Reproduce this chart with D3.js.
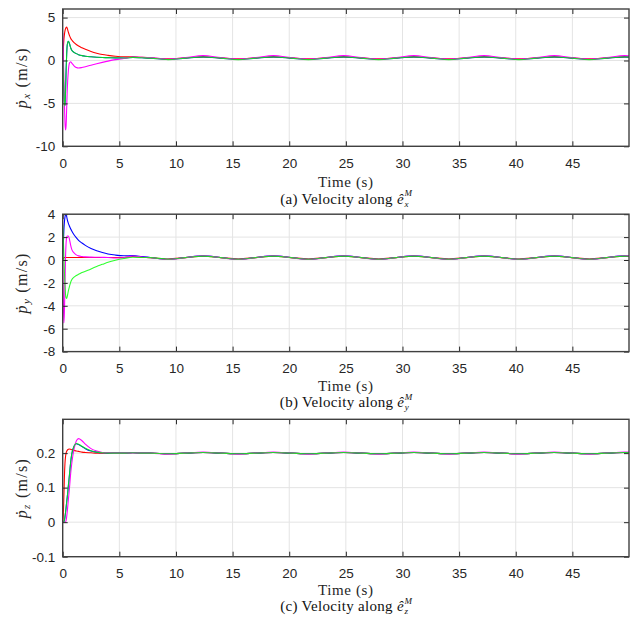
<!DOCTYPE html>
<html><head><meta charset="utf-8">
<script src="https://cdn.jsdelivr.net/npm/d3@7/dist/d3.min.js"></script>
<style>body{margin:0;background:#fff}svg{display:block}</style>
</head><body><svg id="c" width="637" height="617"></svg>
<script>
// ---------- data ----------
const T = [0,0.05,0.1,0.15,0.2,0.25,0.3,0.35,0.4,0.5,0.6,0.7,0.8,1.0,1.2,1.4,1.7,2.0,2.5,3.0,3.5,4.0,4.65,5.4,6.2,7.0,
  7.75,9.3,10.85,12.4,13.95,15.5,17.05,18.6,20.15,21.7,23.25,24.8,26.35,27.9,29.45,31.0,32.55,34.1,35.65,37.2,38.75,40.3,41.85,43.4,44.95,46.5,48.05,49.6,50];
const xTicks = [0,5,10,15,20,25,30,35,40,45];
const seriesNames = ["red","blue","magenta","green"];

// (a) velocity along x
const aRed = [0,1.2,2.3,3.0,3.45,3.7,3.85,3.9,3.75,3.3,2.9,2.6,2.38,2.08,1.86,1.68,1.48,1.3,1.05,0.85,0.7,0.6,0.5,0.43,0.42,0.37,
  0.31,0.2,0.31,0.42,0.31,0.2,0.31,0.42,0.31,0.2,0.31,0.42,0.31,0.2,0.31,0.42,0.31,0.2,0.31,0.42,0.31,0.2,0.31,0.42,0.31,0.2,0.31,0.42,0.41];
const aBlue = [0,-1.5,-3.5,-5.0,-5.3,-3.6,-1.2,0.7,1.8,2.25,1.95,1.5,1.2,0.95,0.8,0.68,0.57,0.5,0.43,0.38,0.35,0.33,0.3,0.29,0.36,0.32,
  0.28,0.12,0.28,0.4,0.28,0.12,0.28,0.4,0.28,0.12,0.28,0.4,0.28,0.12,0.28,0.4,0.28,0.12,0.28,0.4,0.28,0.12,0.28,0.4,0.28,0.12,0.28,0.4,0.39];
const aMagenta = [3.2,1.2,-2.0,-5.0,-7.2,-8.1,-7.6,-5.6,-3.5,-1.2,-0.3,-0.15,-0.3,-0.62,-0.82,-0.88,-0.82,-0.72,-0.55,-0.38,-0.22,-0.07,0.1,0.24,0.4,0.38,
  0.33,0.15,0.33,0.58,0.33,0.15,0.33,0.58,0.33,0.15,0.33,0.58,0.33,0.15,0.33,0.58,0.33,0.15,0.33,0.58,0.33,0.15,0.33,0.58,0.33,0.15,0.33,0.58,0.56];
const aGreen = [0,-1.5,-3.5,-5.0,-5.3,-3.6,-1.2,0.7,1.8,2.25,1.95,1.5,1.2,0.95,0.8,0.68,0.57,0.5,0.43,0.38,0.35,0.33,0.3,0.29,0.36,0.32,
  0.28,0.1,0.28,0.4,0.28,0.1,0.28,0.4,0.28,0.1,0.28,0.4,0.28,0.1,0.28,0.4,0.28,0.1,0.28,0.4,0.28,0.1,0.28,0.4,0.28,0.1,0.28,0.4,0.39];
const aYTicks = [-10,-5,0,5];

// (b) velocity along y
const bRed = [0,0.12,0.2,0.22,0.22,0.22,0.22,0.22,0.22,0.22,0.22,0.22,0.22,0.22,0.22,0.22,0.22,0.22,0.22,0.22,0.22,0.22,0.22,0.22,0.3,0.24,
  0.21,0.09,0.21,0.33,0.21,0.09,0.21,0.33,0.21,0.09,0.21,0.33,0.21,0.09,0.21,0.33,0.21,0.09,0.21,0.33,0.21,0.09,0.21,0.33,0.21,0.09,0.21,0.33,0.32];
const bBlue = [0,1.2,2.5,3.3,3.75,3.95,3.95,3.8,3.55,3.2,2.95,2.72,2.53,2.2,1.95,1.72,1.48,1.28,1.0,0.8,0.65,0.53,0.43,0.37,0.38,0.3,
  0.22,0.06,0.22,0.36,0.22,0.06,0.22,0.36,0.22,0.06,0.22,0.36,0.22,0.06,0.22,0.36,0.22,0.06,0.22,0.36,0.22,0.06,0.22,0.36,0.22,0.06,0.22,0.36,0.35];
const bMagenta = [0,-3.0,-5.5,-4.6,-2.2,0.2,1.5,2.0,2.1,2.1,1.8,1.3,0.93,0.62,0.45,0.36,0.3,0.27,0.25,0.24,0.23,0.22,0.18,0.2,0.35,0.26,
  0.21,0.05,0.21,0.37,0.21,0.05,0.21,0.37,0.21,0.05,0.21,0.37,0.21,0.05,0.21,0.37,0.21,0.05,0.21,0.37,0.21,0.05,0.21,0.37,0.21,0.05,0.21,0.37,0.36];
const bGreen = [3.1,2.0,0.5,-1.0,-2.2,-3.0,-3.3,-3.35,-3.2,-2.7,-2.3,-1.95,-1.72,-1.5,-1.35,-1.25,-1.1,-0.98,-0.78,-0.56,-0.38,-0.2,-0.02,0.13,0.24,0.22,
  0.21,0.07,0.21,0.34,0.21,0.07,0.21,0.34,0.21,0.07,0.21,0.34,0.21,0.07,0.21,0.34,0.21,0.07,0.21,0.34,0.21,0.07,0.21,0.34,0.21,0.07,0.21,0.34,0.33];
const bYTicks = [-8,-6,-4,-2,0,2,4];

// (c) velocity along z
const cRed = [0,0.02,0.07,0.13,0.17,0.19,0.2,0.205,0.208,0.211,0.212,0.211,0.21,0.208,0.206,0.205,0.203,0.202,0.201,0.2,0.2,0.2,0.2,0.2,0.201,0.2,
  0.2,0.198,0.2,0.202,0.2,0.198,0.2,0.202,0.2,0.198,0.2,0.202,0.2,0.198,0.2,0.202,0.2,0.198,0.2,0.202,0.2,0.198,0.2,0.202,0.2,0.198,0.2,0.202,0.202];
const cBlue = [0,0,0,0.005,0.015,0.028,0.042,0.058,0.072,0.105,0.138,0.172,0.197,0.22,0.227,0.225,0.219,0.213,0.206,0.203,0.201,0.2,0.2,0.2,0.201,0.2,
  0.2,0.198,0.2,0.202,0.2,0.198,0.2,0.202,0.2,0.198,0.2,0.202,0.2,0.198,0.2,0.202,0.2,0.198,0.2,0.202,0.2,0.198,0.2,0.202,0.2,0.198,0.2,0.202,0.202];
const cMagenta = [0,0,0,0,0,0,0.005,0.015,0.03,0.065,0.1,0.14,0.17,0.212,0.235,0.242,0.236,0.226,0.213,0.206,0.202,0.201,0.2,0.2,0.201,0.2,
  0.2,0.197,0.2,0.203,0.2,0.197,0.2,0.203,0.2,0.197,0.2,0.203,0.2,0.197,0.2,0.203,0.2,0.197,0.2,0.203,0.2,0.197,0.2,0.203,0.2,0.197,0.2,0.203,0.203];
const cGreen = [0,0,0,0.005,0.015,0.028,0.042,0.058,0.072,0.105,0.138,0.172,0.197,0.22,0.228,0.226,0.22,0.214,0.207,0.203,0.201,0.2,0.2,0.2,0.201,0.2,
  0.2,0.198,0.2,0.202,0.2,0.198,0.2,0.202,0.2,0.198,0.2,0.202,0.2,0.198,0.2,0.202,0.2,0.198,0.2,0.202,0.2,0.198,0.2,0.202,0.2,0.198,0.2,0.202,0.202];
const cYTicks = [-0.1,0,0.1,0.2];

// ---------- drawing ----------
const colors = {red:"#ff0000", blue:"#0000ff", magenta:"#ff00ff", green:"#00ff00"};
const panels = [
  {top:9,   bottom:146.3, yDomain:[-10,6],      yTicks:aYTicks, sub:"x", letter:"a", shift:2,    data:{red:aRed,blue:aBlue,magenta:aMagenta,green:aGreen}},
  {top:214.2,bottom:351.6,yDomain:[-8,4],       yTicks:bYTicks, sub:"y", letter:"b", shift:0,    data:{red:bRed,blue:bBlue,magenta:bMagenta,green:bGreen}},
  {top:419.3,bottom:556.7,yDomain:[-0.1,0.298], yTicks:cYTicks, sub:"z", letter:"c", shift:-0.8, data:{red:cRed,blue:cBlue,magenta:cMagenta,green:cGreen}}
];
const L = 62.7, R = 629;
const svg = d3.select("#c");
const x = d3.scaleLinear().domain([0,50]).range([L,R]);
const tickFont = "'Liberation Sans', Arial, sans-serif";
const serif = "'Liberation Serif', 'Times New Roman', serif";
const axisCol = "#262626";

panels.forEach((p,pi) => {
  const y = d3.scaleLinear().domain(p.yDomain).range([p.bottom,p.top]);
  const g = svg.append("g");
  // grid
  g.append("g").selectAll("line").data(xTicks.filter(d=>d>0)).join("line")
    .attr("x1",d=>x(d)).attr("x2",d=>x(d)).attr("y1",p.top).attr("y2",p.bottom)
    .attr("stroke","#e4e4e4").attr("stroke-width",1);
  g.append("g").selectAll("line").data(p.yTicks).join("line")
    .attr("x1",L).attr("x2",R).attr("y1",d=>y(d)).attr("y2",d=>y(d))
    .attr("stroke","#e4e4e4").attr("stroke-width",1);
  // series
  const line = d3.line().x((d,i)=>x(T[i])).y(d=>y(d)).curve(d3.curveMonotoneX);
  seriesNames.forEach(n => {
    g.append("path").attr("d", line(p.data[n])).attr("fill","none")
      .attr("stroke", colors[n]).attr("stroke-width",1.1)
      .attr("stroke-opacity", n==="green" ? 0.82 : 1);
  });
  // axes
  const styleAxis = sel => {
    sel.select(".domain").remove();
    sel.selectAll(".tick line").attr("stroke",axisCol).attr("stroke-width",1);
    sel.selectAll(".tick text").attr("fill",axisCol).style("font-family",tickFont).style("font-size","13.5px");
  };
  g.append("g").attr("transform",`translate(0,${p.bottom})`)
    .call(d3.axisBottom(x).tickValues(xTicks).tickSize(-5).tickPadding(12).tickFormat(d3.format("d"))).call(styleAxis);
  g.append("g").attr("transform",`translate(0,${p.top})`)
    .call(d3.axisTop(x).tickValues(xTicks).tickSize(-5).tickFormat("")).call(styleAxis);
  g.append("g").attr("transform",`translate(${L},0)`)
    .call(d3.axisLeft(y).tickValues(p.yTicks).tickSize(-5).tickPadding(7.5).tickFormat(d=>String(d))).call(styleAxis);
  g.append("g").attr("transform",`translate(${R},0)`)
    .call(d3.axisRight(y).tickValues(p.yTicks).tickSize(-5).tickFormat("")).call(styleAxis);
  // frame
  g.append("rect").attr("x",L).attr("y",p.top).attr("width",R-L).attr("height",p.bottom-p.top)
    .attr("fill","none").attr("stroke","#404040").attr("stroke-width",1.4);

  // y label
  const cy = (p.top+p.bottom)/2;
  const yl = g.append("text").attr("transform",`translate(27,${cy}) rotate(-90)`)
    .attr("text-anchor","middle").attr("fill",axisCol)
    .style("font-family",serif).style("font-size","16px").style("letter-spacing","1.3px");
  yl.append("tspan").style("font-style","italic").text("ṗ");
  yl.append("tspan").style("font-style","italic").style("font-size","11px").attr("dy",3).text(p.sub);
  yl.append("tspan").attr("dy",-3).text("  (m/s)");

  // x label
  const cx = (L+R)/2;
  const base = p.bottom + p.shift;
  g.append("text").attr("x",cx).attr("y",base+39).attr("text-anchor","middle")
    .attr("fill",axisCol).style("font-family",serif).style("font-size","15px")
    .style("letter-spacing","0.6px").text("Time (s)");

  // caption
  const cap = g.append("g");
  const t1 = cap.append("text").attr("x",0).attr("y",base+55.5).attr("fill","#111")
    .style("font-family",serif).style("font-size","15px").style("letter-spacing","0.3px");
  t1.append("tspan").text(`(${p.letter}) Velocity along `);
  t1.append("tspan").style("font-style","italic").text("ê");
  const w1 = t1.node().getComputedTextLength();
  const sup = cap.append("text").attr("x",w1+0.5).attr("y",base+48).attr("fill","#111")
    .style("font-family",serif).style("font-size","9px").style("font-style","italic").text("M");
  const subt = cap.append("text").attr("x",w1+0.5).attr("y",base+58.5).attr("fill","#111")
    .style("font-family",serif).style("font-size","9px").style("font-style","italic").text(p.sub);
  const w2 = Math.max(sup.node().getComputedTextLength(), subt.node().getComputedTextLength());
  cap.attr("transform",`translate(${cx-(w1+w2)/2},0)`);
});
</script></body></html>
